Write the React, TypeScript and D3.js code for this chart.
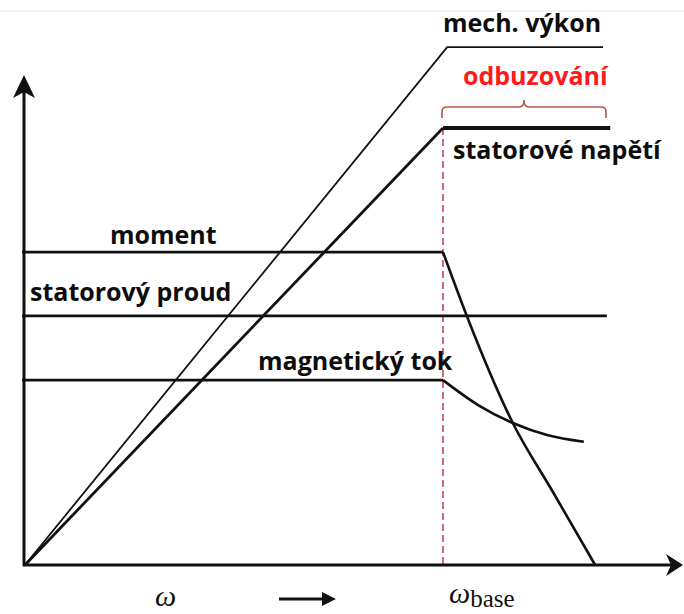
import React from "react";
import * as d3 from "d3";

type P = [number, number];

// Normalised data: x = ω / ω_base, y = value / rated stator voltage
const mechPower: P[] = [[0, 0], [1.01, 1.185], [1.383, 1.185]];
const statorVoltageRise: P[] = [[0, 0], [1, 1]];
const statorVoltageFlat: P[] = [[1, 1], [1.4, 1]];
const torqueFlat: P[] = [[-0.007, 0.716], [1, 0.716]];
const torqueTail: P[] = [[1, 0.716], [1.057, 0.57], [1.167, 0.325], [1.263, 0.167], [1.364, 0]];
const statorCurrent: P[] = [[-0.007, 0.57], [1.392, 0.57]];
const fluxFlat: P[] = [[-0.007, 0.423], [1, 0.423]];
const fluxTail: P[] = [[1, 0.423], [1.084, 0.366], [1.167, 0.325], [1.251, 0.297], [1.337, 0.282]];

const labels = {
  mech: "mech. výkon",
  field: "odbuzování",
  voltage: "statorové napětí",
  torque: "moment",
  current: "statorový proud",
  flux: "magnetický tok",
};
const braceRange: P = [1, 1.39];

const W = 684;
const H = 614;

export default function App() {
  const x = d3.scaleLinear().domain([0, 1]).range([25, 443]);
  const y = d3.scaleLinear().domain([0, 1]).range([565, 128]);
  const lin = d3.line<P>().x((d) => x(d[0])).y((d) => y(d[1]));
  const curve = d3
    .line<P>()
    .x((d) => x(d[0]))
    .y((d) => y(d[1]))
    .curve(d3.curveMonotoneX);

  const x0 = x(0) - 2;
  const y0 = y(0);
  const axisEndX = 683;
  const axisTopY = 75;

  const bL = x(braceRange[0]) - 1;
  const bR = x(braceRange[1]);
  const bM = (bL + bR) / 2;
  const bBot = y(1.023);
  const bTop = y(1.048);
  const bTip = y(1.064);
  const r = 5;
  const brace = `M${bL},${bBot} L${bL},${bTop + r} Q${bL},${bTop} ${bL + r},${bTop} L${bM - r},${bTop} Q${bM},${bTop} ${bM},${bTip} Q${bM},${bTop} ${bM + r},${bTop} L${bR - r},${bTop} Q${bR},${bTop} ${bR},${bTop + r} L${bR},${bBot}`;

  const txt = {
    fontFamily: "'Open Sans', 'Noto Sans', sans-serif",
    fontWeight: 700,
    fontSize: 25,
    fill: "#0d0d0d",
  } as React.CSSProperties;
  const ink = "#111";
  const serif = "'Liberation Serif', 'DejaVu Serif', serif";

  return (
    <svg
      width={W}
      height={H}
      viewBox={`0 0 ${W} ${H}`}
      style={{ position: "absolute", left: 0, top: 0, background: "#fff" }}
    >
      <line x1={0} x2={W} y1={11} y2={11} stroke="#efefef" strokeWidth={1.5} />

      {/* red dashed ω_base marker */}
      <line
        x1={x(1)}
        x2={x(1)}
        y1={y(1)}
        y2={y0}
        stroke="#c4475e"
        strokeWidth={1.6}
        strokeDasharray="7,4"
      />
      <path d={brace} fill="none" stroke="#c0504d" strokeWidth={1.6} />

      {/* series */}
      <path d={lin(mechPower) ?? ""} fill="none" stroke={ink} strokeWidth={1.8} />
      <path d={lin(statorVoltageRise) ?? ""} fill="none" stroke={ink} strokeWidth={2.8} />
      <path d={lin(statorVoltageFlat) ?? ""} fill="none" stroke={ink} strokeWidth={4.2} />
      <path d={lin(torqueFlat) ?? ""} fill="none" stroke={ink} strokeWidth={2.6} />
      <path d={curve(torqueTail) ?? ""} fill="none" stroke={ink} strokeWidth={2.6} />
      <path d={lin(statorCurrent) ?? ""} fill="none" stroke={ink} strokeWidth={2.6} />
      <path d={lin(fluxFlat) ?? ""} fill="none" stroke={ink} strokeWidth={2.6} />
      <path d={curve(fluxTail) ?? ""} fill="none" stroke={ink} strokeWidth={2.6} />

      {/* axes */}
      <line x1={x0 + 1} x2={x0 + 1} y1={y0 + 1} y2={axisTopY + 14} stroke={ink} strokeWidth={3} />
      <path
        d={`M${x0 + 1},${axisTopY} L${x0 - 10},${axisTopY + 23} L${x0 + 1},${axisTopY + 17} L${x0 + 12},${axisTopY + 23} Z`}
        fill={ink}
      />
      <line x1={x0} x2={axisEndX - 12} y1={y0} y2={y0} stroke={ink} strokeWidth={3} />
      <path
        d={`M${axisEndX},${y0} L${axisEndX - 17},${y0 - 11} L${axisEndX - 12},${y0} L${axisEndX - 17},${y0 + 11} Z`}
        fill={ink}
      />

      {/* labels */}
      <text x={443} y={32} style={txt}>{labels.mech}</text>
      <text x={463} y={85} style={{ ...txt, fill: "#ff1a1a" }}>{labels.field}</text>
      <text x={453} y={159} style={txt}>{labels.voltage}</text>
      <text x={110} y={244} style={txt}>{labels.torque}</text>
      <text x={30} y={301} style={txt}>{labels.current}</text>
      <text x={258} y={370} style={txt}>{labels.flux}</text>

      {/* x axis annotation */}
      <text x={155} y={606} style={{ fontFamily: serif, fontStyle: "italic", fontSize: 30, fill: ink }}>
        ω
      </text>
      <line x1={279} x2={324} y1={599} y2={599} stroke={ink} strokeWidth={3} />
      <path d="M336,599 L322,592 L322,606 Z" fill={ink} />
      <text x={449} y={603} style={{ fontFamily: serif, fontStyle: "italic", fontSize: 30, fill: ink }}>
        ω
        <tspan fontStyle="normal" fontSize={25} dy={4}>base</tspan>
      </text>
    </svg>
  );
}
